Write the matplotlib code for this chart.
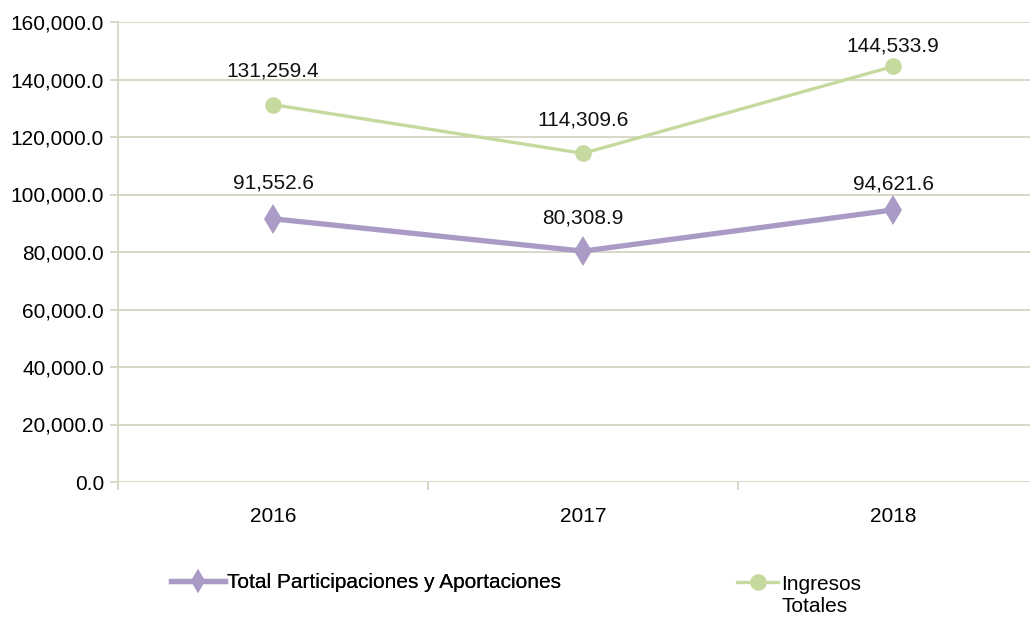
import matplotlib.pyplot as plt
from matplotlib.ticker import FuncFormatter

plt.rcParams['font.family'] = ['Liberation Sans Narrow', 'Liberation Sans', 'DejaVu Sans']

years = ['2016', '2017', '2018']
participaciones = [91552.6, 80308.9, 94621.6]
ingresos = [131259.4, 114309.6, 144533.9]

grid_color = '#d5d6c4'
purple = '#a99bc6'
green = '#c6d99e'

fig = plt.figure(figsize=(10.3, 6.22), dpi=100)
ax = fig.add_axes([118 / 1030, 1 - 482 / 622, 930 / 1030, 460 / 622])

x = list(range(len(years)))
l1, = ax.plot(x, participaciones, color=purple, lw=3.8, marker='d',
              markersize=15, markeredgewidth=0, zorder=3)
l2, = ax.plot(x, ingresos, color=green, lw=2.4, marker='o',
              markersize=12, markeredgewidth=0, zorder=3)

# etiquetas de valores sobre cada punto (desplazamiento en puntos)
off1 = [26, 24, 19]
off2 = [24, 24, 15]
for xi, v, d in zip(x, participaciones, off1):
    ax.annotate(f'{v:,.1f}', (xi, v), xytext=(0, d), textcoords='offset points',
                ha='center', va='center', fontsize=15, color='#111111')
for xi, v, d in zip(x, ingresos, off2):
    ax.annotate(f'{v:,.1f}', (xi, v), xytext=(0, d), textcoords='offset points',
                ha='center', va='center', fontsize=15, color='#111111')

ax.set_xlim(-0.5, 2.5)
ax.set_ylim(0, 160000)
ax.set_yticks(range(0, 160001, 20000))
ax.yaxis.set_major_formatter(FuncFormatter(lambda v, p: f'{v:,.1f}'))
ax.set_xticks(x)
ax.set_xticklabels(years)
ax.set_xticks([-0.5, 0.5, 1.5, 2.5], minor=True)

ax.grid(axis='y', color=grid_color, lw=1.3)
ax.set_axisbelow(True)
for s in ['top', 'right', 'bottom']:
    ax.spines[s].set_visible(False)
ax.spines['left'].set_color(grid_color)
ax.spines['left'].set_linewidth(1.3)
ax.tick_params(axis='y', length=6, color=grid_color, width=1.3, labelsize=15, pad=4)
ax.tick_params(axis='x', which='major', length=0, labelsize=15, pad=18)
ax.tick_params(axis='x', which='minor', length=6, color=grid_color, width=1.3)

leg1 = fig.legend([l1], ['Total Participaciones y Aportaciones'], loc='center left',
                  bbox_to_anchor=(152 / 1030, 1 - 583 / 622), frameon=False,
                  fontsize=15, handlelength=2.6, handletextpad=0.1,
                  markerscale=0.8)
leg2 = fig.legend([l2], ['Ingresos\nTotales'], loc='upper left',
                  bbox_to_anchor=(718 / 1030, 1 - 556 / 622), frameon=False,
                  fontsize=15, handlelength=2.0, handletextpad=0.15)
for t in leg2.get_texts():
    t.set_linespacing(1.25)
# marcador alineado con la primera línea del texto
for col in leg2._legend_handle_box.get_children():
    for row in col.get_children():
        row.align = 'top'
fig.add_artist(leg1)

fig.savefig('out.png', dpi=100)
